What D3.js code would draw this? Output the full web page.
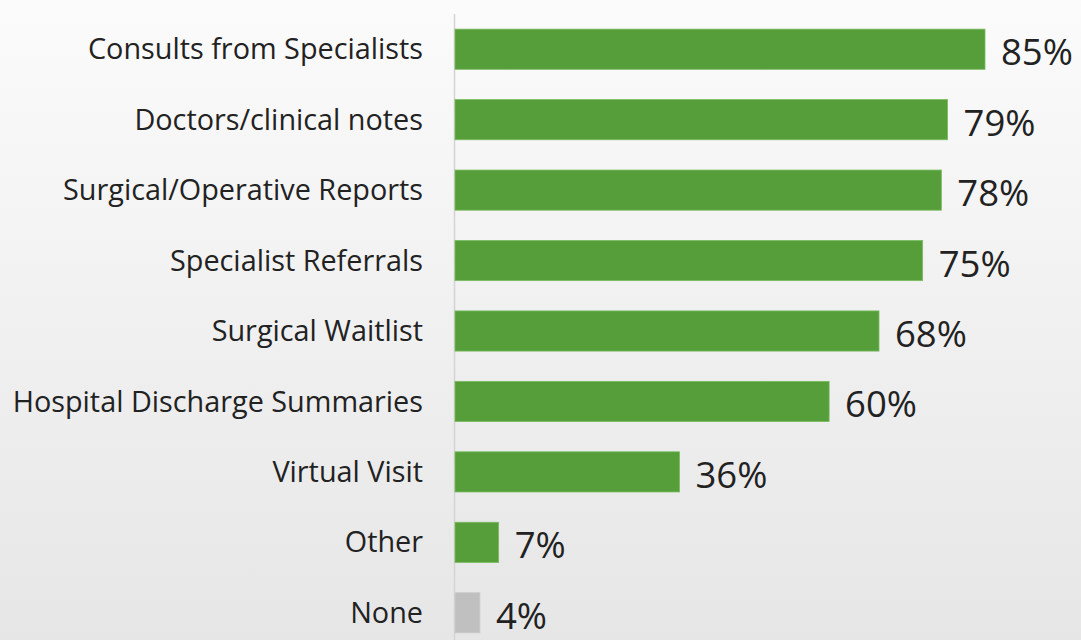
<!DOCTYPE html>
<html>
<head>
<script src="https://d3js.org/d3.v7.min.js"></script>
<style>
  body { margin: 0; }
</style>
</head>
<body>
<script>
var categories = ["Consults from Specialists", "Doctors/clinical notes", "Surgical/Operative Reports",
    "Specialist Referrals", "Surgical Waitlist", "Hospital Discharge Summaries",
    "Virtual Visit", "Other", "None"];
var values = [85, 79, 78, 75, 68, 60, 36, 7, 4];
var valueLabels = ["85%", "79%", "78%", "75%", "68%", "60%", "36%", "7%", "4%"];

var w = 1081, h = 640;

var svg = d3.select("body").append("svg")
    .attr("width", w)
    .attr("height", h);

var grad = svg.append("defs").append("linearGradient")
    .attr("id", "bg")
    .attr("x1", 0).attr("y1", 0).attr("x2", 0).attr("y2", 1);
grad.append("stop").attr("offset", "0%").attr("stop-color", "#fbfbfb");
grad.append("stop").attr("offset", "100%").attr("stop-color", "#e6e6e6");

svg.append("rect").attr("width", w).attr("height", h).attr("fill", "url(#bg)");

var x = d3.scaleLinear().domain([0, 85]).range([455, 985]);
var y = d3.scaleBand().domain(categories).range([14, 648]).paddingInner(0.43).paddingOuter(0.215);

// axis line
svg.append("line")
    .attr("x1", 454.5).attr("x2", 454.5)
    .attr("y1", 14).attr("y2", h)
    .attr("stroke", "#d4d4d4")
    .attr("stroke-width", 1.5);

svg.selectAll(".bar")
    .data(values)
    .enter().append("rect")
    .attr("class", "bar")
    .attr("x", x(0))
    .attr("y", function(d, i){ return y(categories[i]) })
    .attr("width", function(d){ return x(d) - x(0) })
    .attr("height", y.bandwidth())
    .attr("fill", function(d, i){ return categories[i] == "None" ? "#c0c0c0" : "#559e3a" })
    .attr("stroke", function(d, i){ return categories[i] == "None" ? "#cccccc" : "#79bb5e" })
    .attr("stroke-width", 0.8);

svg.selectAll(".cat")
    .data(categories)
    .enter().append("text")
    .attr("class", "cat")
    .attr("x", 423)
    .attr("y", function(d){ return y(d) + y.bandwidth() / 2 })
    .attr("dy", "0.35em")
    .attr("text-anchor", "end")
    .attr("font-family", "Open Sans, sans-serif")
    .attr("font-size", 28.8)
    .attr("fill", "#222")
    .text(function(d){ return d });

svg.selectAll(".val")
    .data(values)
    .enter().append("text")
    .attr("class", "val")
    .attr("x", function(d){ return x(d) + 16 })
    .attr("y", function(d, i){ return y(categories[i]) + y.bandwidth() / 2 + 16 })
    .attr("font-family", "Open Sans, sans-serif")
    .attr("font-size", 36.5)
    .attr("fill", "#222")
    .text(function(d, i){ return valueLabels[i] });
</script>
</body>
</html>
